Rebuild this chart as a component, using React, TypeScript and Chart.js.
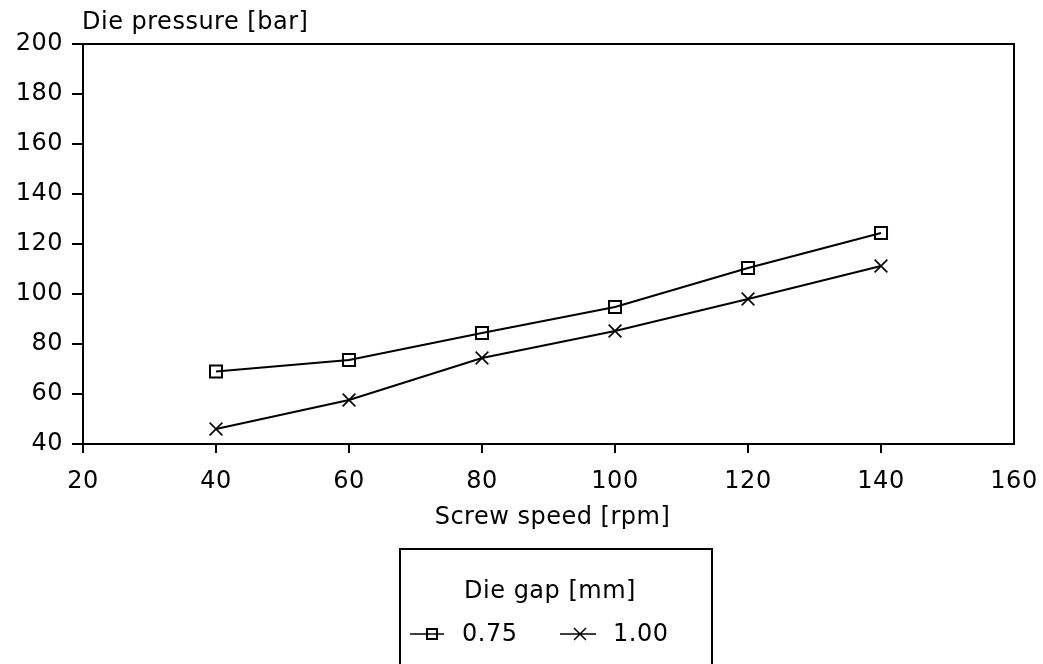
import React, { useEffect, useRef } from "react";
import { Chart, registerables } from "chart.js";

Chart.register(...registerables);

// Screw speed (rpm) and measured die pressure (bar) for two die gaps
const screwSpeed = [40, 60, 80, 100, 120, 140];
const pressureGap075 = [69, 73.6, 84.4, 94.8, 110.4, 124.4];
const pressureGap100 = [46, 57.6, 74.4, 85.2, 98, 111.2];
const gapLabels = ["0.75", "1.00"];

const xRange = [20, 160];
const yRange = [40, 200];
const tickStep = 20;

const yAxisTitle = "Die pressure [bar]";
const xAxisTitle = "Screw speed [rpm]";
const legendTitle = "Die gap [mm]";

const FONT_FAMILY = '"DejaVu Sans", "Liberation Sans", sans-serif';
const FONT_SIZE = 24;
const LETTER_SPACING = "0.5px";

const toPoints = (ys: number[]) => screwSpeed.map((x, i) => ({ x, y: ys[i] }));

// Slightly spaced lettering for every text drawn on the canvas
const spacingPlugin = {
  id: "spacing",
  beforeLayout(chart: any) {
    chart.ctx.letterSpacing = LETTER_SPACING;
  },
  beforeDraw(chart: any) {
    chart.ctx.letterSpacing = LETTER_SPACING;
  },
};

// Plot frame, axis titles and the boxed legend
const decorPlugin = {
  id: "decor",
  afterDraw(chart: any) {
    const { ctx, chartArea } = chart;
    ctx.save();
    ctx.letterSpacing = LETTER_SPACING;
    ctx.strokeStyle = "#000";
    ctx.fillStyle = "#000";
    ctx.lineWidth = 2;

    // top and right edges of the frame
    ctx.beginPath();
    ctx.moveTo(chartArea.left, chartArea.top);
    ctx.lineTo(chartArea.right, chartArea.top);
    ctx.lineTo(chartArea.right, chartArea.bottom);
    ctx.stroke();

    ctx.font = `${FONT_SIZE}px ${FONT_FAMILY}`;
    ctx.textBaseline = "alphabetic";

    // y axis title above the axis
    ctx.textAlign = "left";
    ctx.fillText(yAxisTitle, chartArea.left - 1, 29);

    // x axis title under the tick labels
    ctx.textAlign = "center";
    ctx.fillText(xAxisTitle, (chartArea.left + chartArea.right) / 2 + 4, 524);

    // legend box
    const boxLeft = 400;
    const boxTop = 549;
    const boxRight = 712;
    ctx.beginPath();
    ctx.rect(boxLeft, boxTop, boxRight - boxLeft, 200);
    ctx.stroke();

    ctx.textAlign = "center";
    ctx.fillText(legendTitle, 550, 598);

    const rowY = 634;
    ctx.textAlign = "left";
    ctx.textBaseline = "middle";

    // first entry: square marker
    ctx.lineWidth = 1.5;
    ctx.beginPath();
    ctx.moveTo(410, rowY);
    ctx.lineTo(444, rowY);
    ctx.stroke();
    ctx.lineWidth = 2;
    ctx.strokeRect(427, rowY - 5, 10, 10);
    ctx.fillText(gapLabels[0], 462, rowY + 1);

    // second entry: cross marker
    ctx.lineWidth = 1.5;
    ctx.beginPath();
    ctx.moveTo(560, rowY);
    ctx.lineTo(596, rowY);
    ctx.moveTo(574, rowY - 6);
    ctx.lineTo(586, rowY + 6);
    ctx.moveTo(574, rowY + 6);
    ctx.lineTo(586, rowY - 6);
    ctx.stroke();
    ctx.fillText(gapLabels[1], 613, rowY + 1);

    ctx.restore();
  },
};

export default function App() {
  const canvasRef = useRef<HTMLCanvasElement | null>(null);

  useEffect(() => {
    document.body.style.margin = "0";
    const canvas = canvasRef.current;
    if (!canvas) return;

    const tickFont = { family: FONT_FAMILY, size: FONT_SIZE };

    const chart = new Chart(canvas, {
      type: "line",
      data: {
        datasets: [
          {
            label: gapLabels[0],
            data: toPoints(pressureGap075),
            borderColor: "#000",
            borderWidth: 2,
            pointStyle: "rect",
            pointRadius: 8.5,
            pointBorderWidth: 2,
            pointBorderColor: "#000",
            pointBackgroundColor: "rgba(0,0,0,0)",
            tension: 0,
          },
          {
            label: gapLabels[1],
            data: toPoints(pressureGap100),
            borderColor: "#000",
            borderWidth: 2,
            pointStyle: "crossRot",
            pointRadius: 9,
            pointBorderWidth: 1.6,
            pointBorderColor: "#000",
            pointBackgroundColor: "rgba(0,0,0,0)",
            tension: 0,
          },
        ],
      },
      options: {
        responsive: false,
        animation: false,
        devicePixelRatio: 1,
        layout: { padding: { top: 44, right: 29, bottom: 0, left: 0 } },
        plugins: {
          legend: { display: false },
          tooltip: { enabled: false },
        },
        scales: {
          x: {
            type: "linear",
            min: xRange[0],
            max: xRange[1],
            afterFit(scale: any) {
              scale.height = 220;
              scale.paddingLeft = 0;
              scale.paddingRight = 0;
            },
            border: { display: true, color: "#000", width: 2 },
            grid: {
              drawOnChartArea: false,
              drawTicks: true,
              tickLength: 9,
              lineWidth: 2,
              color: (ctx: any) =>
                ctx.tick && ctx.tick.value === xRange[1] ? "rgba(0,0,0,0)" : "#000",
            },
            ticks: {
              stepSize: tickStep,
              color: "#000",
              font: tickFont,
              padding: 14,
              maxRotation: 0,
            },
          },
          y: {
            type: "linear",
            min: yRange[0],
            max: yRange[1],
            afterFit(scale: any) {
              scale.width = 83;
              scale.paddingTop = 0;
              scale.paddingBottom = 0;
            },
            border: { display: true, color: "#000", width: 2 },
            grid: {
              drawOnChartArea: false,
              drawTicks: true,
              tickLength: 11,
              lineWidth: 2,
              color: "#000",
            },
            ticks: {
              stepSize: tickStep,
              color: "#000",
              font: tickFont,
              padding: 9,
            },
          },
        },
      },
      plugins: [spacingPlugin, decorPlugin],
    } as any);

    return () => {
      chart.destroy();
    };
  }, []);

  return (
    <div style={{ position: "fixed", left: 0, top: 0, width: 1043, height: 664, background: "#fff" }}>
      <canvas ref={canvasRef} width={1043} height={664} style={{ display: "block" }} />
    </div>
  );
}
